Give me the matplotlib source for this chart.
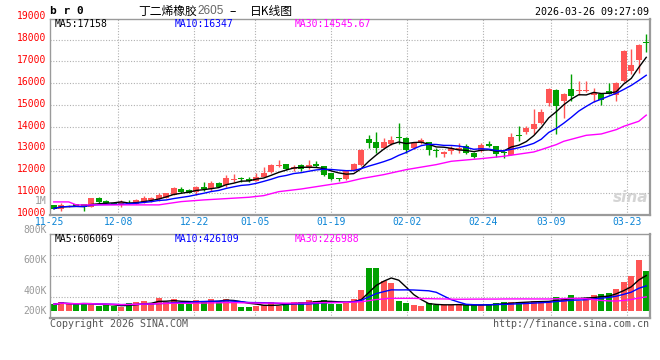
import numpy as np
import pandas as pd
import matplotlib
matplotlib.use('Agg')
import matplotlib.pyplot as plt
from matplotlib.transforms import blended_transform_factory

# 丁二烯橡胶2605 日K (11-25 ... 03-26, 80 个交易日)
opens = [10424, 10273, 10364, 10485, 10485, 10364, 10758, 10621, 10500, 10439,
         10515, 10485, 10576, 10667, 10697, 10758, 10894, 11167, 11121, 11045,
         11242, 11152, 11439, 11333, 11600, 11652, 11606, 11545, 11727, 11939,
         12212, 12303, 12061, 12242, 12121, 12333, 12212, 11909, 11667, 11607,
         11988, 12262, 13464, 13327, 13053, 13236, 13530, 13510, 13023, 13266,
         13312, 12910, 12779, 12901, 12932, 13130, 12825, 12901, 13206, 13130,
         12871, 12719, 13600, 13784, 13891, 14195, 15108, 15702, 15215, 15747,
         15641, 15641, 15489, 15519, 15671, 15489, 16098, 16585, 17072, 17893]
highs = [10440, 10515, 10420, 10500, 10500, 10760, 10818, 10667, 10560, 10667,
         10667, 10697, 10849, 10818, 11000, 10990, 11273, 11273, 11152, 11303,
         11485, 11545, 11485, 11788, 11848, 11727, 11697, 11909, 12182, 12303,
         12485, 12320, 12242, 12303, 12485, 12454, 12230, 11920, 11680, 12030,
         12340, 12990, 13632, 13784, 13510, 13571, 14195, 13540, 13300, 13480,
         13330, 13053, 12890, 13130, 13282, 13236, 12850, 13282, 13358, 13150,
         12890, 13738, 14043, 14043, 14804, 14804, 15770, 15720, 15540, 16432,
         16098, 16098, 15777, 15540, 16021, 16067, 17520, 17589, 17800, 18259]
lows = [10250, 10182, 10350, 10380, 10182, 10333, 10545, 10485, 10470, 10364,
        10460, 10470, 10545, 10591, 10636, 10740, 10880, 10970, 10990, 10894,
        11091, 11091, 11242, 11273, 11500, 11500, 11500, 11515, 11700, 11879,
        12152, 12040, 12000, 12000, 12091, 12152, 11758, 11590, 11515, 11560,
        11970, 12240, 13053, 12825, 13040, 13200, 13206, 12825, 13000, 13206,
        12719, 12627, 12627, 12749, 12825, 12749, 12600, 12880, 13084, 12627,
        12566, 12700, 13358, 13662, 13662, 14119, 14956, 13662, 14423, 15215,
        15489, 15600, 15154, 15032, 15500, 15215, 16080, 16432, 16478, 17437]
closes = [10273, 10424, 10394, 10394, 10333, 10742, 10591, 10515, 10485, 10561,
          10470, 10667, 10758, 10742, 10894, 10970, 11227, 11030, 11000, 11273,
          11152, 11455, 11273, 11667, 11620, 11606, 11515, 11697, 11909, 12242,
          12273, 12061, 12152, 12061, 12273, 12212, 11818, 11606, 11606, 11988,
          12323, 12962, 13282, 13053, 13327, 13418, 13500, 12932, 13282, 13418,
          12932, 12890, 12871, 13023, 13053, 12810, 12627, 13175, 13114, 12779,
          12830, 13540, 13586, 13936, 14149, 14697, 15747, 14986, 15519, 15443,
          15702, 15702, 15565, 15260, 15519, 16021, 17498, 16828, 17772, 17833]
volumes = [113000, 152500, 113000, 113000, 135600, 113000, 90400, 101700, 84800, 62200,
           135600, 152500, 169500, 135600, 220400, 152500, 203400, 113000, 113000, 186500,
           169500, 203400, 158200, 203400, 158200, 67800, 67800, 90400, 101700, 146900,
           90400, 135600, 146900, 158200, 180800, 169500, 180800, 124300, 124300, 152500,
           203400, 356000, 728900, 728900, 508500, 474600, 169500, 135600, 101700, 84800,
           135600, 101700, 101700, 101700, 101700, 101700, 101700, 101700, 118700, 135600,
           152500, 152500, 152500, 152500, 169500, 169500, 169500, 237300, 203400, 271200,
           169500, 220400, 271200, 288200, 305100, 372900, 491600, 593300, 864500, 678000]

# MA30 (价格) 读自原图
ma30_idx = [0, 2, 3, 14, 17, 20, 23, 26, 28, 30, 33, 35, 37, 39, 41, 44, 47, 51,
            53, 57, 60, 64, 65, 67, 68, 71, 73, 75, 76, 78, 79]
ma30_val = [10576, 10576, 10440, 10440, 10590, 10667, 10727, 10788, 10864, 11045,
            11167, 11273, 11379, 11480, 11641, 11824, 12053, 12282, 12435, 12556,
            12663, 12861, 12968, 13197, 13349, 13623, 13684, 13882, 14035, 14264, 14546]

date_idx = [0, 9, 19, 27, 37, 47, 57, 66, 76]
date_labels = ['11-25', '12-08', '12-22', '01-05', '01-19', '02-02', '02-24', '03-09', '03-23']
price_ticks = [10000, 11000, 12000, 13000, 14000, 15000, 16000, 17000, 18000, 19000]
vol_labels = ['1M', '800K', '600K', '400K', '200K']

RED = '#ff5555'
GREEN = '#00a000'
GRID = '#b0b0b0'
MONO = 'DejaVu Sans Mono'
CJK = ['Noto Sans CJK SC', 'DejaVu Sans']

n = len(closes)
x = np.arange(n)
o = np.array(opens); c = np.array(closes)
up = c >= o
colors = np.where(up, RED, GREEN)

s = pd.Series(closes)
ma5 = s.rolling(5, min_periods=1).mean()
ma10 = s.rolling(10, min_periods=1).mean()
vs = pd.Series(volumes)
vma5 = vs.rolling(5, min_periods=1).mean()
vma10 = vs.rolling(10, min_periods=1).mean()
vma30 = vs.rolling(30, min_periods=1).mean()

W, H = 660, 360
def box(l, t, r, b):
    return [l / W, 1 - b / H, (r - l) / W, (b - t) / H]

fig = plt.figure(figsize=(6.6, 3.6), dpi=100)
ax = fig.add_axes(box(50, 18.5, 650, 214.5))
axv = fig.add_axes(box(50, 234, 650, 318))

# x 网格位置
grid_x = [i * n / (n - 1) - 0.5 for i in date_idx]

for a in (ax, axv):
    a.set_xlim(-0.5, n - 0.5)
    for sp in a.spines.values():
        sp.set_color('#9a9a9a')
        sp.set_linewidth(1.0)
    a.spines['bottom'].set_linewidth(1.6)
    a.spines['right'].set_linewidth(1.6)
    a.tick_params(length=0)
    for gx in grid_x[1:]:
        a.axvline(gx, color=GRID, lw=0.8, ls=(0, (1, 1.5)), zorder=0)

# ---- 主图 K线 ----
ax.set_ylim(10000, 18967)
for v in price_ticks[1:-1]:
    ax.axhline(v, color=GRID, lw=0.8, ls=(0, (1, 1.5)), zorder=0)

ax.vlines(x, lows, highs, colors=colors, lw=1.0, zorder=2)
body = np.maximum(np.abs(c - o), 45)
ax.bar(x, body, bottom=np.minimum(o, c), width=0.8, color=colors, lw=0, zorder=3)

ax.plot(x, ma5, color='black', lw=1.0, zorder=4)
ax.plot(x, ma10, color='#0000ff', lw=1.0, zorder=4)
ax.plot(ma30_idx, ma30_val, color='#ff00ff', lw=1.0, zorder=4)

ax.set_yticks([])
ax.set_xticks(grid_x)
ax.set_xticklabels(date_labels, color='#0a84d6', fontsize=7, family=MONO)
ax.tick_params(axis='x', pad=1.5)

tr = blended_transform_factory(ax.transAxes, ax.transData)
for v in price_ticks:
    ax.text(-0.007, v + 70, str(v), transform=tr, ha='right', va='center',
            color='#ff0000', fontsize=7, family=MONO, clip_on=False)

ax.text(0.0085, 0.973, 'MA5:17158', transform=ax.transAxes, va='center',
        color='black', fontsize=7, family=MONO)
ax.text(0.207, 0.973, 'MA10:16347', transform=ax.transAxes, va='center',
        color='#0000ff', fontsize=7, family=MONO)
ax.text(0.408, 0.973, 'MA30:14545.67', transform=ax.transAxes, va='center',
        color='#ff00ff', fontsize=7, family=MONO)
ax.text(0.997, 0.05, 'sina', transform=ax.transAxes, ha='right', va='bottom',
        color='#d4d4d4', fontsize=11, fontweight='bold', fontstyle='italic', zorder=1)

# ---- 成交量 ----
vscale = 16950
axv.set_ylim(-7 * vscale, 77 * vscale)
lo, hi = axv.get_ylim()
for f in (0.25, 0.5, 0.75):
    axv.axhline(lo + f * (hi - lo), color=GRID, lw=0.8, ls=(0, (1, 1.5)), zorder=0)
axv.bar(x, volumes, width=0.8, color=colors, lw=0, zorder=2)
axv.plot(x, vma5, color='black', lw=1.0, zorder=3)
axv.plot(x, vma10, color='#0000ff', lw=1.0, zorder=3)
axv.plot(x, vma30, color='#ff00ff', lw=1.0, zorder=3)
axv.set_xticks([])
axv.set_yticks([])

axv.text(0.0085, 0.94, 'MA5:606069', transform=axv.transAxes, va='center',
         color='black', fontsize=7, family=MONO)
axv.text(0.208, 0.94, 'MA10:426109', transform=axv.transAxes, va='center',
         color='#0000ff', fontsize=7, family=MONO)
axv.text(0.408, 0.94, 'MA30:226988', transform=axv.transAxes, va='center',
         color='#ff00ff', fontsize=7, family=MONO)

for lab, ypx in zip(vol_labels, [200.7, 230, 260, 290.7, 311]):
    fig.text(46.5 / W, 1 - ypx / H, lab, ha='right', va='center',
             color='#999999', fontsize=7, family=MONO)

# ---- 标题与底部文字 ----
fig.text(50 / W, 1 - 11.5 / H, 'b r 0', ha='left', va='center', color='black',
         fontsize=8, fontweight='bold', family=MONO)
fig.text(138 / W, 1 - 11.5 / H, '丁二烯橡胶', ha='left', va='center',
         color='black', fontsize=8.5, family=CJK)
fig.text(197 / W, 1 - 11.5 / H, '2605', ha='left', va='center',
         color='#666666', fontsize=8.5, family='Liberation Sans')
fig.text(229 / W, 1 - 11.5 / H, '–', ha='left', va='center',
         color='black', fontsize=8.5, family=CJK)
fig.text(250 / W, 1 - 11.5 / H, '日K线图', ha='left', va='center',
         color='black', fontsize=8.5, family=CJK)
fig.text(649 / W, 1 - 12.3 / H, '2026-03-26 09:27:09', ha='right', va='center',
         color='black', fontsize=7.2, family=MONO)
fig.text(50 / W, 1 - 323.7 / H, 'Copyright 2026 SINA.COM', ha='left', va='center',
         color='#555555', fontsize=7.2, family=MONO)
fig.text(649 / W, 1 - 324 / H, 'http://finance.sina.com.cn', ha='right', va='center',
         color='#555555', fontsize=7.2, family=MONO)

fig.savefig('out.png', dpi=100, facecolor='white')
